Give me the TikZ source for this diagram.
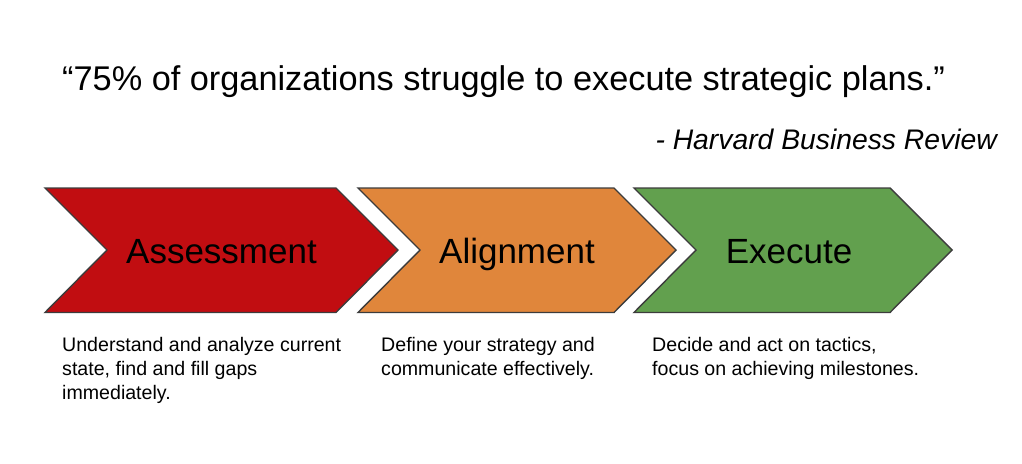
\documentclass[tikz,border=0pt]{standalone}
\usepackage{fontspec}
\setmainfont{Liberation Sans}
\definecolor{cred}{HTML}{C10D11}
\definecolor{corange}{HTML}{E0863B}
\definecolor{cgreen}{HTML}{62A04E}
\definecolor{cedge}{HTML}{3C3C3C}
\begin{document}
\begin{tikzpicture}[x=1pt,y=-1pt,
  chev/.style={draw=cedge,line width=1.4pt,line join=miter},
  lab/.style={font=\fontsize{35}{40}\selectfont,anchor=base,inner sep=0pt},
  desc/.style={font=\fontsize{19.6}{24.2}\selectfont,anchor=base west,inner sep=0pt}]
\useasboundingbox (0,0) rectangle (1022,463);
\fill[white] (0,0) rectangle (1022,463);
% chevrons
\filldraw[chev,fill=cred] (45,188) -- (336,188) -- (398,250) -- (336,312.5) -- (45,312.5) -- (107,250) -- cycle;
\filldraw[chev,fill=corange] (358,188) -- (614,188) -- (676,250) -- (614,312.5) -- (358,312.5) -- (420,250) -- cycle;
\filldraw[chev,fill=cgreen] (634,188) -- (890,188) -- (952,250) -- (890,312.5) -- (634,312.5) -- (696,250) -- cycle;
\node[lab] (a1) at (221.5,263.5) {Assessment};
\node[lab] (a2) at (517,263.5) {Alignment};
\node[lab] (a3) at (789,263.5) {Execute};
% quote
\node[anchor=base west,inner sep=0pt,font=\fontsize{34.3}{38}\selectfont] (q) at (62,90.5) {“75\% of organizations struggle to execute strategic plans.”};
\node[anchor=base east,inner sep=0pt,font=\fontsize{28.3}{32}\selectfont\itshape] (hbr) at (997,149.5) {- Harvard Business Review};
% descriptions
\node[desc] (d1) at (62,351.5) {\vtop{\hbox{Understand and analyze current}\hbox{state, find and fill gaps}\hbox{immediately.}}};
\node[desc] (d2) at (381,351.5) {\vtop{\hbox{Define your strategy and}\hbox{communicate effectively.}}};
\node[desc] (d3) at (652,351.5) {\vtop{\hbox{Decide and act on tactics,}\hbox{focus on achieving milestones.}}};
\end{tikzpicture}
\end{document}
